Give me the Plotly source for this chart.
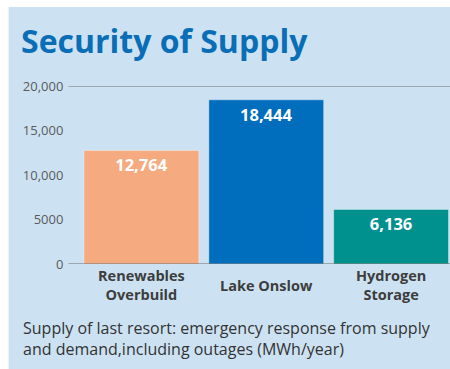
import plotly.graph_objects as go

categories = ["Renewables<br>Overbuild", "Lake Onslow", "Hydrogen<br>Storage"]
values = [12764, 18444, 6136]
value_labels = ["12,764", "18,444", "6,136"]
tick_vals = [0, 5000, 10000, 15000, 20000]
tick_text = ["0", "5000", "10,000", "15,000", "20,000"]
colors = ["#F5AA80", "#006EBC", "#00918F"]

W_FIG, H_FIG = 450, 369
L, T = 78.5, 86
PW, PH = W_FIG - L, 178
B = H_FIG - T - PH


def px(x):
    return (x - L) / PW


def py(y):
    return (T + PH - y) / PH


fig = go.Figure()
fig.add_trace(go.Bar(
    x=categories,
    y=values,
    marker=dict(color=colors, line=dict(color="rgba(255,255,255,0.35)", width=1)),
    text=[f"<b>{t}</b>" for t in value_labels],
    textposition="inside",
    insidetextanchor="end",
    textfont=dict(color="white", size=16.5, family="Open Sans"),
    hoverinfo="skip",
))

shapes = [
    dict(type="rect", xref="paper", yref="paper", x0=px(8), x1=px(452),
         y0=py(7), y1=py(371), fillcolor="#CCE2F2", line=dict(width=0), layer="below"),
]
for v in [0, 20000]:
    shapes.append(dict(type="line", xref="paper", yref="y", x0=px(68), x1=1,
                       y0=v, y1=v, line=dict(color="#6b6b6b", width=1), layer="above"))

annotations = [
    dict(text="Supply of last resort: emergency response from supply<br>and demand,including outages (MWh/year)",
         xref="paper", yref="paper", x=px(20), y=py(338), xanchor="left", yanchor="middle",
         showarrow=False, align="left",
         font=dict(family="Open Sans", size=16, color="#333333")),
]
# category labels, vertically centred under each bar
for cat in categories:
    annotations.append(dict(text=f"<b>{cat}</b>", xref="x", yref="paper", x=cat, y=py(285),
                            xanchor="center", yanchor="middle", showarrow=False, align="center",
                            font=dict(family="Open Sans", size=14.5, color="#3d3d3d")))

fig.update_layout(
    width=W_FIG, height=H_FIG,
    margin=dict(l=L, r=0, t=T, b=B),
    paper_bgcolor="white",
    plot_bgcolor="rgba(0,0,0,0)",
    bargap=0.08,
    showlegend=False,
    shapes=shapes,
    title=dict(text="<b>Security of Supply</b>", xref="container", yref="container",
               x=21 / W_FIG, xanchor="left", y=1 - 42 / H_FIG, yanchor="middle",
               font=dict(family="Open Sans", size=32, color="#0A6EB6")),
    font=dict(family="Open Sans"),
    annotations=annotations,
)
fig.update_xaxes(range=[-0.5, -0.5 + PW / 125], showgrid=False, showline=False,
                 showticklabels=False)
fig.update_yaxes(range=[0, 20000], tickvals=tick_vals, ticktext=tick_text,
                 showgrid=False, zeroline=False, showline=False,
                 ticks="outside", ticklen=12, tickcolor="rgba(0,0,0,0)",
                 tickfont=dict(size=13, color="#5a5a5a", family="Open Sans"))

fig.write_html("out.html")
